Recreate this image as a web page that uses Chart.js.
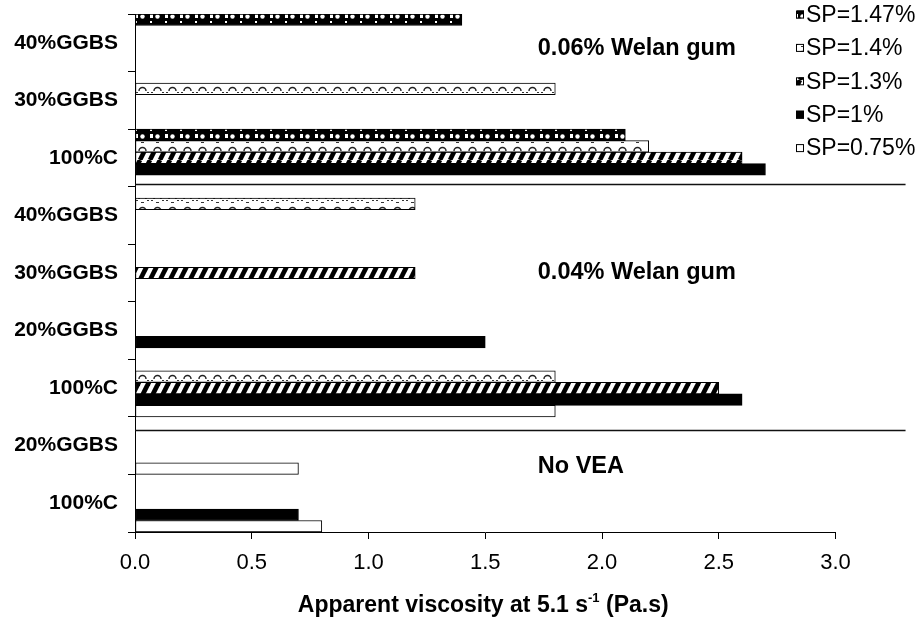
<!DOCTYPE html>
<html lang="en">
<head>
<meta charset="UTF-8">
<title>Apparent viscosity</title>
<script src="https://cdn.jsdelivr.net/npm/chart.js@4.4.0/dist/chart.umd.min.js"></script>
<style>
  html, body { margin: 0; padding: 0; background: #fff; }
  #wrap { width: 917px; height: 623px; }
</style>
</head>
<body>
<div id="wrap"><canvas id="chart" width="917" height="623"></canvas></div>
<script>
// categories from bottom to top (y axis is reversed)
var categories = ['100%C', '20%GGBS', '100%C', '20%GGBS', '30%GGBS', '40%GGBS', '100%C', '30%GGBS', '40%GGBS'];
var seriesNames = ['SP=1.47%', 'SP=1.4%', 'SP=1.3%', 'SP=1%', 'SP=0.75%'];
var sp147 = [null, null, null, null, null, null, 2.1, null, 1.4];
var sp14 = [null, null, 1.8, null, null, 1.2, 2.2, 1.8, null];
var sp13 = [null, null, 2.5, null, 1.2, null, 2.6, null, null];
var sp1 = [0.7, null, 2.6, 1.5, null, null, 2.7, null, null];
var sp075 = [0.8, 0.7, 1.8, null, null, null, null, null, null];
var xTicks = [0, 0.5, 1, 1.5, 2, 2.5, 3];
var groupNames = ['0.06% Welan gum', '0.04% Welan gum', 'No VEA'];
var groupAt = [7.9, 4.0, 0.63];     // position of the group texts, in category units
var separatorAt = [5.545, 1.28];    // lines between the groups

var FONT = "'Liberation Sans', Arial, sans-serif";
Chart.defaults.font.family = FONT;
Chart.defaults.color = '#000';

var ctx = document.getElementById('chart').getContext('2d');

// fill patterns like the old excel ones
function makePattern(w, h, draw) {
    var c = document.createElement('canvas');
    c.width = w; c.height = h;
    var g = c.getContext('2d');
    g.fillStyle = '#fff';
    g.fillRect(0, 0, w, h);
    draw(g);
    return ctx.createPattern(c, 'repeat');
}

var spheres = makePattern(15, 12, function (g) {
    g.fillStyle = '#000';
    g.fillRect(0, 0, 15, 12);
    g.fillStyle = '#fff';
    g.fillRect(0, 2, 3, 4);
    g.beginPath(); g.arc(7.5, 4.5, 2.2, 0, Math.PI * 2); g.fill();
    g.fillRect(0, 9, 2, 2);
});
var waves = makePattern(15, 12, function (g) {
    g.strokeStyle = '#222';
    g.lineWidth = 1.4;
    g.beginPath(); g.arc(7.5, 7, 3.5, Math.PI, Math.PI * 2); g.stroke();
    g.fillStyle = '#333';
    g.fillRect(1, 8, 2, 1);
    g.fillRect(12, 8, 2, 1);
    g.fillRect(6, 10, 3, 1);
});
var stripes = makePattern(10, 20, function (g) {
    g.strokeStyle = '#000';
    g.lineWidth = 4.6;
    [-10, 0, 10].forEach(function (k) {
        g.beginPath(); g.moveTo(k, 20); g.lineTo(k + 10, 0); g.stroke();
    });
});

var fills = [spheres, waves, stripes, '#000', '#fff'];
var values = [sp147, sp14, sp13, sp1, sp075];

var datasets = values.map(function (v, i) {
    return {
        label: seriesNames[i],
        data: v,
        backgroundColor: fills[i],
        borderColor: '#000',
        borderWidth: 1,
        borderSkipped: false,
        categoryPercentage: 1,
        barPercentage: 1
    };
});

var decor = {
    id: 'decor',
    afterDraw: function (chart) {
        var c = chart.ctx, x = chart.scales.x, y = chart.scales.y, area = chart.chartArea;
        c.save();

        // lines between groups
        c.strokeStyle = '#111';
        c.lineWidth = 1.3;
        separatorAt.forEach(function (v) {
            var py = Math.round(y.getPixelForValue(v)) + 0.5;
            c.beginPath(); c.moveTo(area.left, py); c.lineTo(x.getPixelForValue(3.3), py); c.stroke();
        });

        // group texts
        c.fillStyle = '#000';
        c.font = 'bold 23.5px ' + FONT;
        c.textAlign = 'left';
        c.textBaseline = 'middle';
        groupNames.forEach(function (t, i) {
            c.fillText(t, x.getPixelForValue(1.725), y.getPixelForValue(groupAt[i]));
        });

        // legend
        c.font = '23px ' + FONT;
        chart.data.datasets.forEach(function (ds, i) {
            var cy = 14.5 + i * 33.4;
            c.fillStyle = ds.backgroundColor;
            c.fillRect(796, cy - 4, 8, 8);
            c.strokeStyle = '#000';
            c.lineWidth = 1;
            c.strokeRect(796.5, cy - 3.5, 7, 7);
            c.fillStyle = '#000';
            c.fillText(ds.label, 806, cy + 1);
        });

        // axis title with superscript
        var main = 'Apparent viscosity at 5.1 s', sup = '-1', rest = ' (Pa.s)';
        c.font = 'bold 23px ' + FONT;
        var w1 = c.measureText(main).width, w3 = c.measureText(rest).width;
        c.font = 'bold 13px ' + FONT;
        var w2 = c.measureText(sup).width;
        var tx = (area.left + area.right) / 2 - 2 - (w1 + w2 + w3) / 2;
        c.textBaseline = 'alphabetic';
        c.font = 'bold 23px ' + FONT;
        c.fillText(main, tx, 612);
        c.font = 'bold 13px ' + FONT;
        c.fillText(sup, tx + w1, 602);
        c.font = 'bold 23px ' + FONT;
        c.fillText(rest, tx + w1 + w2, 612);

        c.restore();
    }
};

new Chart(ctx, {
    type: 'bar',
    data: { labels: categories, datasets: datasets },
    options: {
        indexAxis: 'y',
        responsive: false,
        animation: false,
        devicePixelRatio: 1,
        layout: { padding: { top: 14, right: 81.5, left: 0, bottom: 0 } },
        plugins: { legend: { display: false }, tooltip: { enabled: false } },
        scales: {
            x: {
                type: 'linear',
                min: 0,
                max: 3,
                afterBuildTicks: function (s) { s.ticks = xTicks.map(function (v) { return { value: v }; }); },
                afterFit: function (s) { s.height = 91; s.paddingLeft = 0; s.paddingRight = 0; },
                grid: { drawOnChartArea: false, drawTicks: true, tickLength: 7, color: '#000' },
                border: { display: true, color: '#000', width: 1 },
                ticks: {
                    color: '#000',
                    font: { size: 22 },
                    padding: 11,
                    callback: function (v) { return Number(v).toFixed(1); }
                }
            },
            y: {
                reverse: true,
                afterFit: function (s) { s.width = 135; s.paddingTop = 0; s.paddingBottom = 0; },
                grid: { drawOnChartArea: false, drawTicks: true, tickLength: 7, color: '#000', offset: true },
                border: { display: true, color: '#000', width: 1 },
                ticks: { color: '#000', font: { size: 21, weight: 'bold' }, padding: 10 }
            }
        }
    },
    plugins: [decor]
});
</script>
</body>
</html>
